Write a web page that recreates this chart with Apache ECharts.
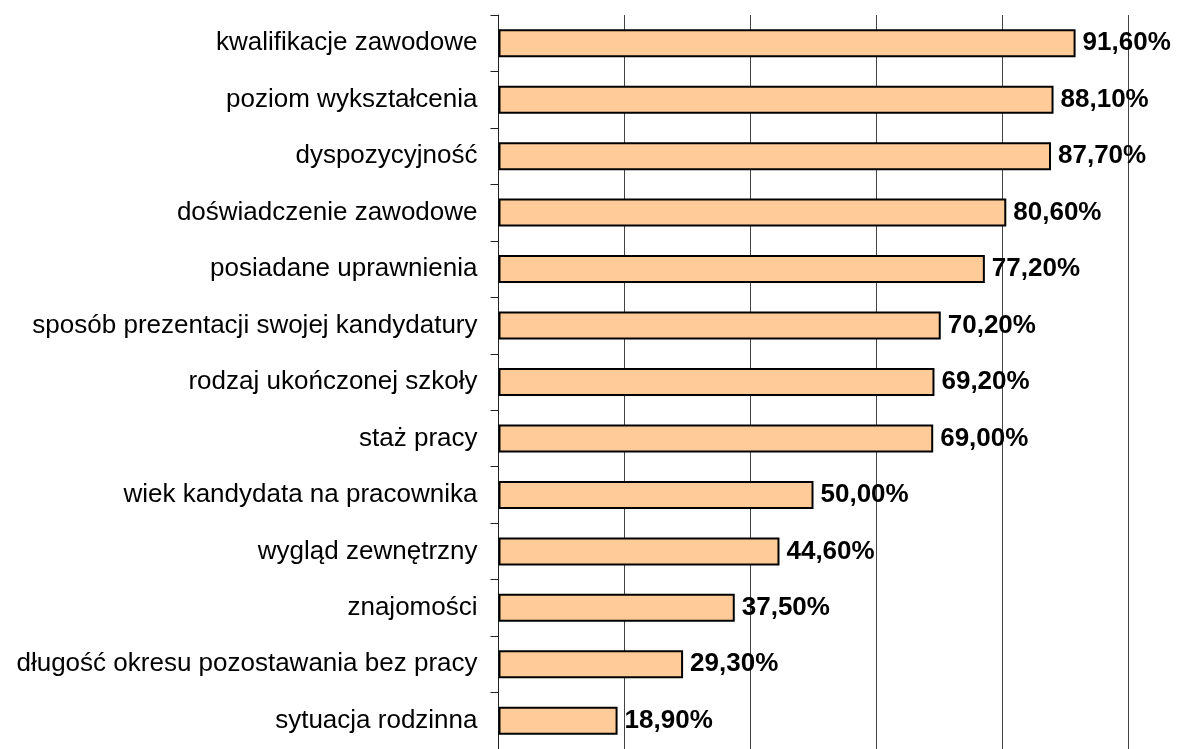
<!DOCTYPE html>
<html>
<head>
<meta charset="utf-8">
<script src="https://cdn.jsdelivr.net/npm/echarts@6/dist/echarts.min.js"></script>
<style>
html,body{margin:0;padding:0;background:#fff;}
#chart{width:1179px;height:749px;}
</style>
</head>
<body>
<div id="chart"></div>
<script>
var categories = [
  "kwalifikacje zawodowe",
  "poziom wykształcenia",
  "dyspozycyjność",
  "doświadczenie zawodowe",
  "posiadane uprawnienia",
  "sposób prezentacji swojej kandydatury",
  "rodzaj ukończonej szkoły",
  "staż pracy",
  "wiek kandydata na pracownika",
  "wygląd zewnętrzny",
  "znajomości",
  "długość okresu pozostawania bez pracy",
  "sytuacja rodzinna"
];
var values = [91.6, 88.1, 87.7, 80.6, 77.2, 70.2, 69.2, 69.0, 50.0, 44.6, 37.5, 29.3, 18.9];

var chart = echarts.init(document.getElementById('chart'), null, {renderer: 'canvas'});
chart.setOption({
  animation: false,
  grid: {left: 498.5, right: 50.5, top: 15, height: 737, containLabel: false},
  xAxis: {
    type: 'value', min: 0, max: 100, interval: 20,
    axisLine: {show: false}, axisTick: {show: false}, axisLabel: {show: false},
    splitLine: {show: true, lineStyle: {color: '#444', width: 1}}
  },
  yAxis: {
    type: 'category', data: categories, inverse: true,
    axisLine: {show: true, lineStyle: {color: '#222', width: 1}},
    axisTick: {show: true, length: 8, lineStyle: {color: '#222'}},
    axisLabel: {margin: 21, color: '#000', fontFamily: 'Liberation Sans, Arial, sans-serif', fontSize: 26}
  },
  series: [{
    type: 'bar', data: values, barWidth: 28,
    itemStyle: {color: '#FFCC99', borderColor: '#000', borderWidth: 2},
    label: {
      show: true, position: 'right', distance: 7,
      color: '#000', fontWeight: 'bold', fontSize: 26,
      fontFamily: 'Liberation Sans, Arial, sans-serif',
      formatter: function (p) { return p.value.toFixed(2).replace('.', ',') + '%'; }
    }
  }]
});
</script>
</body>
</html>
